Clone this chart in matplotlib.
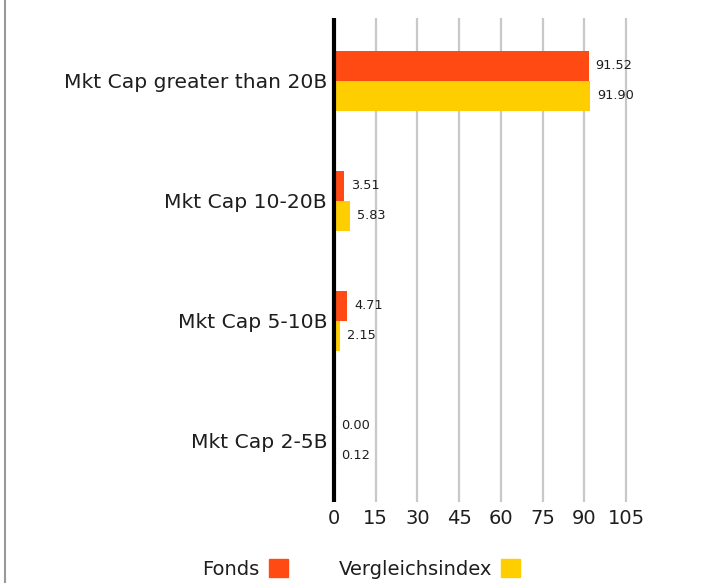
import matplotlib
matplotlib.use("Agg")
import matplotlib.pyplot as plt
from matplotlib.patches import Patch
from matplotlib.lines import Line2D
import numpy as np

categories = ["Mkt Cap greater than 20B", "Mkt Cap 10-20B", "Mkt Cap 5-10B", "Mkt Cap 2-5B"]
fonds = [91.52, 3.51, 4.71, 0.00]
index_vals = [91.90, 5.83, 2.15, 0.12]
series_names = ["Fonds", "Vergleichsindex"]
xticks = [0, 15, 30, 45, 60, 75, 90, 105]

c_fonds = "#FF4A14"
c_index = "#FFCE00"
txt = "#1E1E1E"

plt.rcParams['font.family'] = ['DejaVu Sans']

fig = plt.figure(figsize=(7.03, 5.83), dpi=100)
ax = fig.add_axes([334/703, 1-502/583, 292/703, (502-18)/583])

y = np.arange(len(categories))
h = 0.25
ax.barh(y - h/2, fonds, height=h, color=c_fonds, zorder=3)
ax.barh(y + h/2, index_vals, height=h, color=c_index, zorder=3)

for yi, v in zip(y - h/2, fonds):
    ax.text(v + 2.6, yi, f"{v:.2f}", va="center", ha="left", fontsize=9.3, color=txt)
for yi, v in zip(y + h/2, index_vals):
    ax.text(v + 2.6, yi, f"{v:.2f}", va="center", ha="left", fontsize=9.3, color=txt)

ax.set_xlim(0, 105)
ax.set_ylim(3.51, -0.525)
ax.set_xticks(xticks)
ax.set_xticklabels([str(t) for t in xticks], fontsize=14, color=txt)
ax.set_yticks(y)
ax.set_yticklabels(categories, fontsize=14.6, color=txt)
ax.tick_params(length=0, pad=5)
ax.tick_params(axis='y', pad=5)
for s in ax.spines.values():
    s.set_visible(False)
for t in xticks[1:]:
    ax.axvline(t, color="#C8C8C8", lw=1.6, zorder=1, clip_on=False, solid_capstyle="butt")
ax.axvline(0, color="black", lw=3.0, zorder=4, clip_on=False, solid_capstyle="butt")

fig.add_artist(Line2D([4.5/703, 4.5/703], [0, 1], color="#999999", lw=1.5, transform=fig.transFigure))

handles = [Patch(color=c_fonds), Patch(color=c_index)]
fig.legend(handles, series_names, loc="center", bbox_to_anchor=(0.514, 0.024), ncol=2,
           frameon=False, markerfirst=False, fontsize=14, handlelength=1.0, handleheight=1.0,
           handletextpad=0.45, columnspacing=2.6, labelcolor=txt)

fig.savefig("out.png", dpi=100)
